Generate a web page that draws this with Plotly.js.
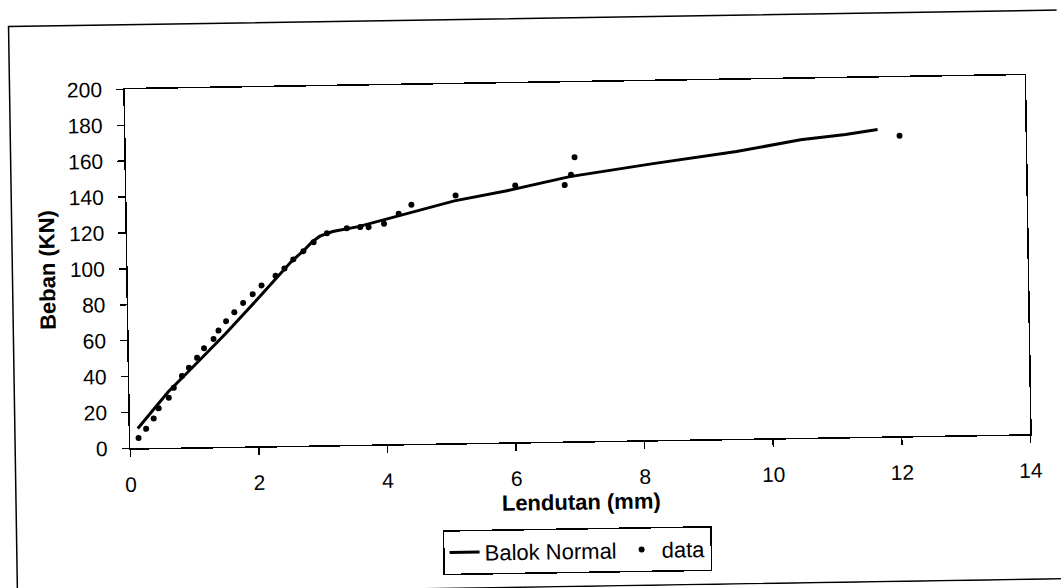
<!DOCTYPE html>
<html>
<head>
<meta charset="utf-8">
<script src="https://cdn.plot.ly/plotly-3.0.1.min.js"></script>
<style>
  html, body { margin: 0; padding: 0; background: #fff; overflow: hidden; }
  #chart { width: 1061px; height: 588px; transform: rotate(-0.9deg); transform-origin: 50% 50%; }
</style>
</head>
<body>
<div id="chart"></div>
<script>
// Fitted load–deflection curve for the normal beam
const curveX = [0.12, 0.6, 1.0, 1.5, 2.0, 2.56, 2.74, 2.88, 3.0, 3.2, 3.6, 4.0, 4.45, 5.1, 5.9, 6.9, 8.2, 9.5, 10.5, 11.2, 11.7];
const curveY = [11, 31, 45, 62.7, 81.5, 103, 108.5, 113.5, 116.5, 119, 121.5, 125, 129, 135, 140, 147.5, 154, 160, 166, 168.5, 171];

// Measured test points
const dataX = [0.13, 0.25, 0.37, 0.45, 0.61, 0.69, 0.82, 0.93, 1.06, 1.17, 1.32, 1.40, 1.52, 1.65, 1.79, 1.94, 2.08, 2.30, 2.44, 2.58, 2.74, 2.90, 3.11, 3.42, 3.63, 3.76, 4.0, 4.23, 4.43, 5.12, 6.05, 6.82, 6.92, 6.98, 12.04];
const dataY = [5.7, 10.7, 16.4, 22, 27.8, 33.3, 39.8, 44.4, 49.8, 55.1, 60.2, 64.8, 70, 74.9, 80, 84.8, 89.6, 94.9, 98.8, 103.8, 108.3, 113.2, 118.1, 120.7, 121.2, 121.1, 122.9, 128.3, 133.2, 138, 143, 142.8, 148.5, 158.2, 167.4];

const xTickVals = [0, 2, 4, 6, 8, 10, 12, 14];
const yTickVals = [0, 20, 40, 60, 80, 100, 120, 140, 160, 180, 200];

const FONT = 'Liberation Sans, Arial, sans-serif';

const traces = [
  {
    x: curveX, y: curveY, name: 'Balok Normal', type: 'scatter', mode: 'lines',
    line: { color: '#000', width: 3 }, showlegend: true
  },
  {
    x: dataX, y: dataY, name: 'data', type: 'scatter', mode: 'markers',
    marker: { color: '#000', size: 6 }, showlegend: true
  }
];

const axisCommon = {
  showgrid: false, zeroline: false, showline: true, linecolor: '#000', linewidth: 1.5,
  mirror: true, ticks: 'outside', ticklen: 7, tickwidth: 1.5, tickcolor: '#000',
  tickfont: { family: FONT, size: 21, color: '#000' }, tickmode: 'array'
};

const layout = {
  width: 1061, height: 588,
  margin: { l: 128, r: 33, t: 83, b: 146 },
  paper_bgcolor: '#fff', plot_bgcolor: '#fff',
  font: { family: FONT, color: '#000' },
  showlegend: true,
  xaxis: Object.assign({}, axisCommon, {
    range: [0, 14], tickvals: xTickVals, ticktext: xTickVals.map(String),
    ticklabelstandoff: 10,
    title: { text: 'Lendutan (mm)', font: { family: FONT, size: 22, weight: 'bold', color: '#000' }, standoff: 6 }
  }),
  yaxis: Object.assign({}, axisCommon, {
    range: [0, 200], tickvals: yTickVals, ticktext: yTickVals.map(String),
    ticklabelstandoff: 10,
    title: { text: 'Beban (KN)', font: { family: FONT, size: 22, weight: 'bold', color: '#000' }, standoff: 8 }
  }),
  legend: {
    orientation: 'h', x: 0.3456, y: -0.242, xanchor: 'left', yanchor: 'top',
    bordercolor: '#000', borderwidth: 1.5, bgcolor: '#fff',
    font: { family: FONT, size: 22, color: '#000' }
  },
  shapes: [
    {
      type: 'rect', xref: 'paper', yref: 'paper',
      x0: -0.128, x1: 1.06, y0: -0.404, y1: 1.18,
      line: { color: '#000', width: 1.5 }, fillcolor: 'rgba(0,0,0,0)', layer: 'below'
    }
  ]
};

Plotly.newPlot('chart', traces, layout, { staticPlot: true, displayModeBar: false });
</script>
</body>
</html>
